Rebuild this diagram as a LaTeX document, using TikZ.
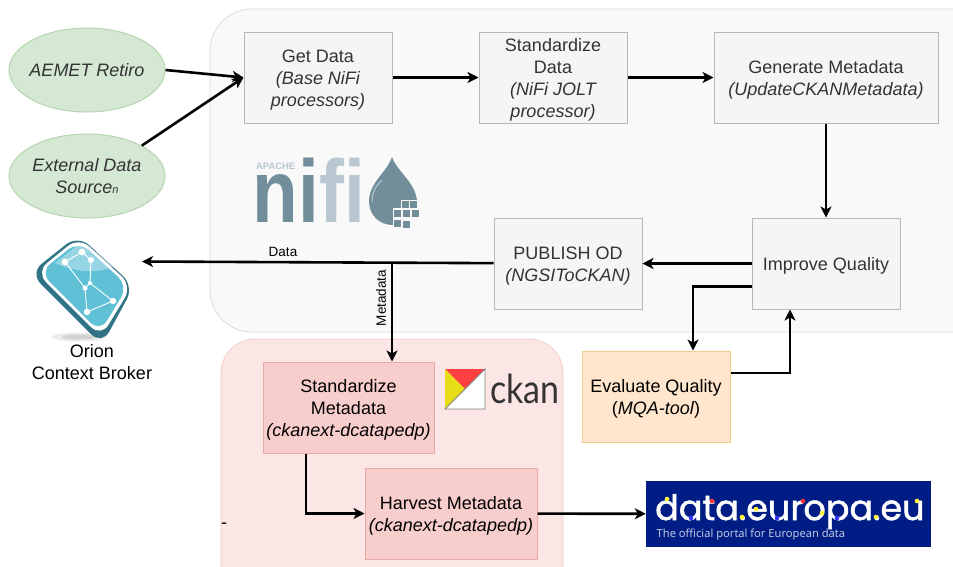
\documentclass[tikz,border=0pt]{standalone}
\usepackage{fontspec}
\setmainfont{Liberation Sans}
\newfontfamily\roundfont[FakeBold=1.5]{Poppins}
\newfontfamily\portalfont{Open Sans}
\newfontfamily\ckanfont{Lato}
\usetikzlibrary{shapes,arrows,arrows.meta,calc}
\definecolor{nifiline}{HTML}{DADADA}
\definecolor{nififill}{HTML}{F9F9F9}
\definecolor{ckanline}{HTML}{F3CFCD}
\definecolor{ckanfill}{HTML}{FBE6E5}
\definecolor{greyline}{HTML}{B8B8B8}
\definecolor{greyfill}{HTML}{F5F5F5}
\definecolor{greytext}{HTML}{333333}
\definecolor{nifidark}{HTML}{728E9B}
\definecolor{nifilight}{HTML}{B9C8D0}
\definecolor{orionedge}{HTML}{2F7385}
\definecolor{orionfill}{HTML}{5FC0D6}
\definecolor{europablue}{HTML}{001D85}
\definecolor{ckanred}{HTML}{E8A9A5}
\definecolor{ckanpink}{HTML}{F8CECC}
\definecolor{sourceline}{HTML}{B5D5AE}
\definecolor{sourcefill}{HTML}{D5E8D4}
\definecolor{evalline}{HTML}{F0CD8E}
\definecolor{evalfill}{HTML}{FFE6CC}
\newcommand{\lift}{\rule{0pt}{17pt}}
\tikzstyle{group} = [draw, line width=0.8pt, rounded corners=42pt]
\tikzstyle{block} = [draw=greyline, fill=greyfill, rectangle, text=greytext, align=center,
    line width=1pt, inner sep=0pt, minimum height=91pt, minimum width=148pt,
    font=\fontsize{18}{22}\selectfont]
\tikzstyle{redblock} = [block, draw=ckanred, fill=ckanpink, text=black]
\tikzstyle{source} = [draw=sourceline, fill=sourcefill, ellipse, text=greytext, align=center,
    line width=1pt, inner sep=0pt, minimum height=84pt, minimum width=156pt,
    font=\fontsize{18}{22}\selectfont]
\tikzstyle{link} = [->, line width=2.6pt]
\tikzstyle{tag} = [font=\fontsize{13.5}{16}\selectfont, inner sep=0.5pt]
\begin{document}
\begin{tikzpicture}[x=1pt, y=-1pt, >={Stealth[length=11pt,width=11pt,inset=3pt]}]
    \useasboundingbox (0,0) rectangle (953,566);
    \clip (0,0) rectangle (953,566);
    \fill[white] (0,0) rectangle (953,566);

    % We start by placing the two groups behind the blocks
    \draw [group, draw=nifiline, fill=nififill] (210,9) rectangle (1000,332);
    \draw [group, rounded corners=34pt, draw=ckanline, fill=ckanfill] (221,339) rectangle (563,600);

    % The blocks of each row
    \node [source] (aemet) at (87,70) {\makebox[0pt]{\itshape AEMET Retiro}};
    \node [source, below of=aemet, node distance=106pt] (external)
        {\itshape External Data\\\itshape Source{\fontsize{11}{11}\selectfont n}};
    \node [block] (get) at (318,77.5) {\lift Get Data\\\itshape (Base NiFi\\\itshape processors)};
    \node [block, right of=get, node distance=235pt] (standard)
        {\lift Standardize\\Data\\\itshape (NiFi JOLT\\\itshape processor)};
    \node [block, right of=standard, node distance=273pt, minimum width=224pt] (generate)
        {\lift Generate Metadata\\\itshape (UpdateCKANMetadata)};
    \node [block, below of=generate, node distance=186pt] (improve) {\lift Improve Quality};
    \node [block, left of=improve, node distance=258pt] (publish)
        {\lift PUBLISH OD\\\itshape (NGSIToCKAN)};
    \node [block, draw=evalline, fill=evalfill, text=black] (evaluate) at (656,396.5)
        {\lift Evaluate Quality\\(\textit{MQA-tool})};
    \node [redblock, minimum width=171pt] (stdmeta) at (348.5,407.5)
        {\lift Standardize\\Metadata\\\itshape (ckanext-dcatapedp)};
    \node [redblock, minimum width=172pt] (harvest) at (451,513.5)
        {\lift Harvest Metadata\\\itshape (ckanext-dcatapedp)};
    \node [align=center, inner sep=0pt, font=\fontsize{18}{22}\selectfont] (orionname) at (92,362)
        {Orion\\Context Broker};
    \node [inner sep=0pt, font=\fontsize{18}{22}\selectfont] (dash) at (224,526) {-};

    % Orion logo
    \fill [gray!15] (79,337) ellipse (27 and 4.5);
    \fill [gray!35] (79,337) ellipse (17 and 2.5);
    \fill [orionedge, rounded corners=15pt] (78,235) -- (134,286) -- (102,345) -- (30,273) -- cycle;
    \fill [white, rounded corners=14pt] (79,237) -- (132,286) -- (101,337) -- (36,272) -- cycle;
    \fill [orionfill, rounded corners=13pt] (79,241) -- (128,286) -- (100,332) -- (40,272) -- cycle;
    \fill [white, opacity=0.35] (55,263) .. controls (75,272) and (95,274) .. (113,267)
        -- (99,254) -- (80,243) -- cycle;
    \draw [white, line width=0.9pt] (65,262) -- (82,252) -- (91,260) -- (90,283) -- (85,288) -- cycle
        (85,288) -- (87,312) -- (113,301) -- (90,283);
    \foreach \px/\py/\pr in {82/252/3.4, 65/262/3.4, 91/260/3, 90/283/2, 85/288/2.6, 113/301/3.2, 87/312/3.2}
        \fill [white] (\px,\py) circle (\pr);

    % Nifi logo
    \node [anchor=base west, inner sep=0pt, text=nifilight, font=\fontsize{9.4}{9}\bfseries\selectfont]
        (apache) at (256,169.5) {APACHE};
    \node [anchor=base west, inner sep=0pt, xscale=0.84, transform shape,
        font=\fontsize{89}{89}\bfseries\selectfont] (nifi) at (252.5,222.5)
        {\textcolor{nifidark}{ni}\textcolor{nifilight}{f\kern0pt i}};
    \fill [nifidark] (392,157) .. controls (397,172) and (417,183) .. (417,203)
        .. controls (417,217) and (406,225) .. (393,225)
        .. controls (379,225) and (369,215) .. (369,201)
        .. controls (369,183) and (387,172) .. (392,157) -- cycle;
    \draw [nifilight, line width=1pt] (372,202) .. controls (372,190) and (378,184) .. (382,180);
    \fill [nififill] (401,200) rectangle (418,209) (393,208) rectangle (418,226);
    \foreach \cx/\cy in {402/201, 410/201, 394/210, 403/210, 412/210, 394/220, 403/221}
        \fill [nifidark] (\cx,\cy) rectangle ++(6.5,6.5);

    % CKAN logo
    \fill [white] (445,369) rectangle (485,409);
    \fill [red!75!white] (445,369) -- (485,369) -- (465,389) -- cycle;
    \fill [yellow!90!black] (445,369) -- (465,389) -- (445,409) -- cycle;
    \draw [gray, line width=0.8pt] (485,369) -- (485,409) -- (445,409) -- cycle;
    \node [anchor=base west, inner sep=0pt, xscale=0.85, transform shape, text=greytext,
        font=\ckanfont\fontsize{40}{40}\selectfont] (ckan) at (490,403.5) {ckan};

    % data.europa.eu logo
    \node [fill=europablue, minimum width=285pt, minimum height=66pt, inner sep=0pt] (europa) at (788.5,514) {};
    \node [anchor=base west, inner sep=0pt, text=white, font=\roundfont\fontsize{35}{35}\selectfont]
        (europaname) at (655,520) {data.europa.eu};
    \node [anchor=base west, inner sep=0pt, text=white!80!europablue, font=\portalfont\fontsize{11.2}{12}\selectfont]
        (europatag) at (656.5,537) {The official portal for European data};
    \foreach \dx/\dy/\dcol in {667/499/yellow, 691/518/blue, 712/501/red, 742/517/yellow, 756/509/yellow,
        777/518/blue, 803/501/red, 822/513/yellow, 837/518/blue, 876/517/yellow, 917/501/yellow}
        \fill [\dcol!80!white] (\dx,\dy) circle (2.3);

    % Once the nodes are placed, connecting them is easy.
    \coordinate (orionin) at (142,261.5);
    \coordinate (branch) at (392,263);
    \draw [link] (aemet.east) -- (get.west);
    \draw [link] (external.29) -- (get.west);
    \draw [link] (get) -- (standard);
    \draw [link] (standard) -- (generate);
    \draw [link] (generate) -- (improve);
    \draw [link] (improve) -- (publish);
    \draw [link] (publish) -- (orionin);
    \draw [link] (branch) -- (branch |- stdmeta.north);
    \draw [link] ([yshift=-23pt]improve.west) -| ([xshift=37pt]evaluate.north);
    \draw [link] ([yshift=23.5pt]evaluate.east) -| ([xshift=-36pt]improve.south);
    \draw [link] ([xshift=-42.5pt]stdmeta.south) |- (harvest.west);
    \draw [link] (harvest) -- (europa);
    \node [tag] (datatag) at (283,252) {Data};
    \node [tag, rotate=90, fill=nififill] (metatag) at (381,298) {Metadata};
\end{tikzpicture}
\end{document}
